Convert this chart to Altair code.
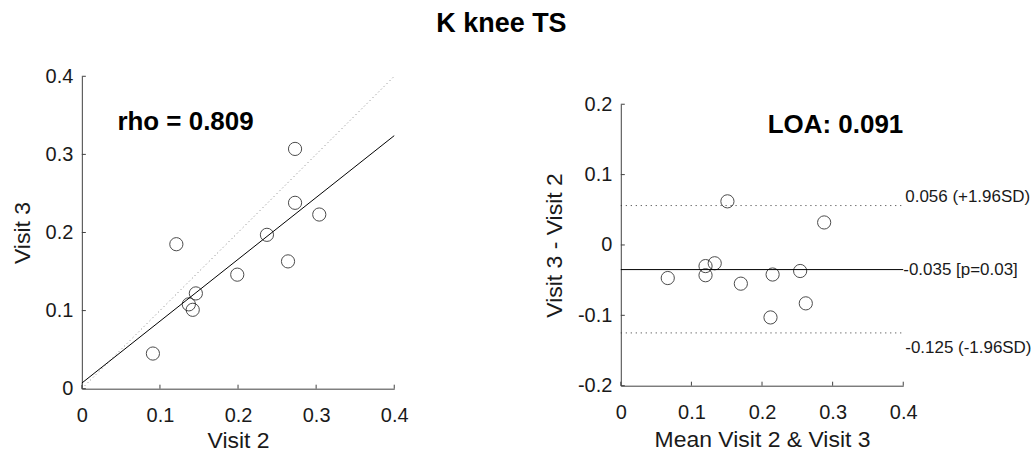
import altair as alt
import pandas as pd

FONT = "Liberation Sans"
AXIS_COLOR = "#404040"
TEXT_COLOR = "#1a1a1a"

# ---- data ----
# Left panel: scatter of Visit 2 vs Visit 3
visit2 = [0.091, 0.121, 0.137, 0.142, 0.146, 0.199, 0.237, 0.264, 0.273, 0.273, 0.304]
visit3 = [0.045, 0.185, 0.108, 0.101, 0.122, 0.146, 0.197, 0.163, 0.307, 0.238, 0.223]
fit_intercept = 0.0072
fit_slope = 0.792
rho_text = "rho = 0.809"

# Right panel: Bland-Altman
ba_mean = [0.0665, 0.120, 0.120, 0.133, 0.151, 0.170, 0.215, 0.212, 0.254, 0.262, 0.288]
ba_diff = [-0.047, -0.030, -0.043, -0.026, 0.062, -0.055, -0.042, -0.103, -0.037, -0.083, 0.032]
bias = -0.035
upper_loa = 0.056
lower_loa = -0.125
bias_label = "-0.035 [p=0.03]"
upper_label = "0.056 (+1.96SD)"
lower_label = "-0.125 (-1.96SD)"
loa_text = "LOA: 0.091"

x_ticks = [0.0, 0.1, 0.2, 0.3, 0.4]
y_ticks_left = [0.0, 0.1, 0.2, 0.3, 0.4]
y_ticks_right = [-0.2, -0.1, 0.0, 0.1, 0.2]

title_text = "K knee TS"

# ---- helpers ----
LW, LH = 313, 313
RW, RH = 283, 282
label_expr = "datum.value == 0 ? '0' : (datum.value < 0 ? '-' : '') + format(abs(datum.value), '.1f')"


def make_axis(title, values, title_padding, label_padding):
    return alt.Axis(
        title=title, values=values, labelExpr=label_expr, ticks=False, tickSize=0,
        grid=False, domainColor=AXIS_COLOR, domainWidth=1,
        labelFont=FONT, labelFontSize=20, labelColor=TEXT_COLOR,
        labelPadding=label_padding, labelFlush=False, labelOverlap=False,
        titleFont=FONT, titleFontSize=23, titleFontWeight="normal",
        titleColor=TEXT_COLOR, titlePadding=title_padding,
    )


def inward_ticks(xscale, yscale, xvals, yvals, w, h):
    xt = alt.Chart(pd.DataFrame({"t": xvals})).mark_rule(color=AXIS_COLOR, strokeWidth=1).encode(
        x=alt.X("t:Q", scale=xscale), y=alt.value(h), y2=alt.value(h - 4))
    yt = alt.Chart(pd.DataFrame({"t": yvals})).mark_rule(color=AXIS_COLOR, strokeWidth=1).encode(
        y=alt.Y("t:Q", scale=yscale), x=alt.value(0), x2=alt.value(4))
    return xt + yt


# ---- left panel ----
lx = alt.Scale(domain=[0, 0.4], nice=False, zero=False)
ly = alt.Scale(domain=[0, 0.4], nice=False, zero=False)

left_df = pd.DataFrame({"v2": visit2, "v3": visit3})
fit_df = pd.DataFrame({"x": [0.0, 0.4], "y": [fit_intercept, fit_intercept + fit_slope * 0.4]})
ident_df = pd.DataFrame({"x": [0.0, 0.4], "y": [0.0, 0.4]})

left_pts = alt.Chart(left_df).mark_point(shape="circle", filled=False, size=175, color="black", strokeWidth=1).encode(
    x=alt.X("v2:Q", scale=lx, axis=make_axis("Visit 2", x_ticks, 4, 17)),
    y=alt.Y("v3:Q", scale=ly, axis=make_axis("Visit 3", y_ticks_left, 11, 9)),
)
left_ident = alt.Chart(ident_df).mark_line(color="#808080", strokeWidth=1, strokeDash=[1, 3]).encode(
    x=alt.X("x:Q", scale=lx), y=alt.Y("y:Q", scale=ly))
left_fit = alt.Chart(fit_df).mark_line(color="black", strokeWidth=1).encode(
    x=alt.X("x:Q", scale=lx), y=alt.Y("y:Q", scale=ly))
left_txt = alt.Chart(pd.DataFrame({"t": [rho_text]})).mark_text(
    font=FONT, fontSize=26, fontWeight="bold", align="left", baseline="alphabetic", color="black"
).encode(x=alt.datum(0.0455, scale=lx), y=alt.datum(0.331, scale=ly), text="t:N")

left = alt.layer(left_ident, left_fit, left_pts, left_txt,
                 inward_ticks(lx, ly, x_ticks, y_ticks_left, LW, LH)).properties(width=LW, height=LH)

# ---- right panel ----
rx = alt.Scale(domain=[0, 0.4], nice=False, zero=False)
ry = alt.Scale(domain=[-0.2, 0.2], nice=False, zero=False)

right_df = pd.DataFrame({"m": ba_mean, "d": ba_diff})
right_pts = alt.Chart(right_df).mark_point(shape="circle", filled=False, size=175, color="black", strokeWidth=1).encode(
    x=alt.X("m:Q", scale=rx, axis=make_axis("Mean Visit 2 & Visit 3", x_ticks, 6, 17)),
    y=alt.Y("d:Q", scale=ry, axis=make_axis("Visit 3 - Visit 2", y_ticks_right, 11, 9)),
)
bias_rule = alt.Chart(pd.DataFrame({"v": [bias]})).mark_rule(color="black", strokeWidth=1).encode(
    y=alt.Y("v:Q", scale=ry), x=alt.value(0), x2=alt.value(RW))
loa_rules = alt.Chart(pd.DataFrame({"v": [upper_loa, lower_loa]})).mark_rule(
    color="#333333", strokeWidth=1, strokeDash=[1, 4]).encode(
    y=alt.Y("v:Q", scale=ry), x=alt.value(0), x2=alt.value(RW))


def side_label(value, text, baseline, dy, dx):
    return alt.Chart(pd.DataFrame({"v": [value], "t": [text]})).mark_text(
        font=FONT, fontSize=17, align="left", baseline=baseline, dy=dy, dx=dx, color=TEXT_COLOR
    ).encode(x=alt.value(RW), y=alt.Y("v:Q", scale=ry), text="t:N")


right_labels = (side_label(upper_loa, upper_label, "alphabetic", -4, 2)
                + side_label(bias, bias_label, "middle", 0, 0)
                + side_label(lower_loa, lower_label, "top", 7, 2))
right_txt = alt.Chart(pd.DataFrame({"t": [loa_text]})).mark_text(
    font=FONT, fontSize=26, fontWeight="bold", align="right", baseline="alphabetic", color="black"
).encode(x=alt.datum(0.4, scale=rx), y=alt.datum(0.159, scale=ry), text="t:N")

right = alt.layer(loa_rules, bias_rule, right_pts, right_labels, right_txt,
                  inward_ticks(rx, ry, x_ticks, y_ticks_right, RW, RH)).properties(width=RW, height=RH)

spacer = alt.Chart(pd.DataFrame({"a": [0]})).mark_point(opacity=0).encode(
    x=alt.value(0), y=alt.value(0)).properties(width=RW, height=18)

chart = alt.hconcat(
    left,
    alt.vconcat(spacer, right, spacing=0),
    spacing=135,
).properties(
    title=alt.TitleParams(title_text, font=FONT, fontSize=27, fontWeight="bold",
                          anchor="middle", color="black", offset=28, dx=-20),
    padding={"left": 11, "top": 10, "right": 0, "bottom": 0},
    background="white",
).configure_view(stroke="transparent", strokeWidth=0)

chart.save("out.html", embed_options={"renderer": "svg", "actions": False})
